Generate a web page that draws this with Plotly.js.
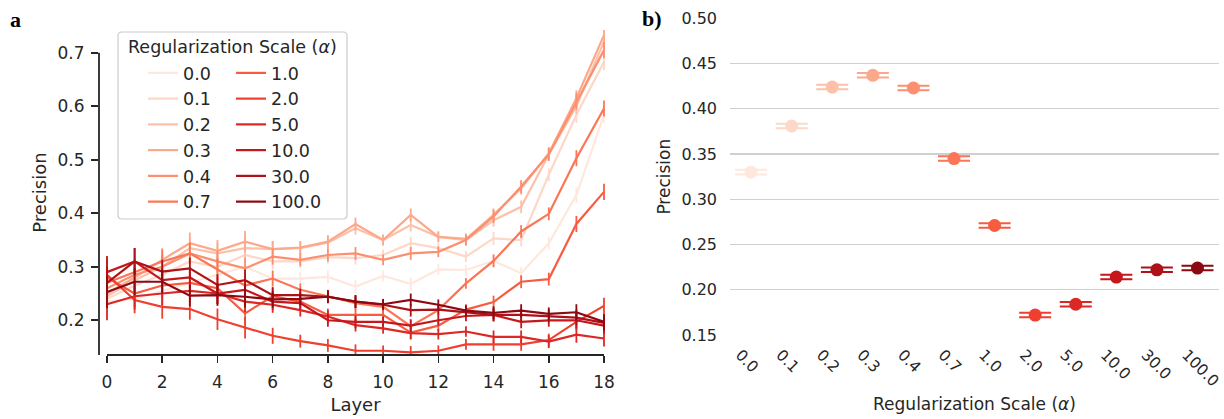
<!DOCTYPE html>
<html>
<head>
<meta charset="utf-8">
<script src="https://cdn.plot.ly/plotly-3.0.1.min.js"></script>
<style>
html,body{margin:0;padding:0;background:#ffffff;}
#chart{width:1224px;height:419px;}
</style>
</head>
<body>
<div id="chart"></div>
<script>
// ---------------- data ----------------
const layers = [0,1,2,3,4,5,6,7,8,9,10,11,12,13,14,15,16,17,18];
const alphaLabels = ['0.0','0.1','0.2','0.3','0.4','0.7','1.0','2.0','5.0','10.0','30.0','100.0'];
const alphaColors = ['#fee8de','#fdd7c7','#fcc1a8','#fca88b','#fc8f6f','#fb7656','#f75c41','#f03f2e','#dc2824','#c5171c','#ae1117','#8d0912'];

// panel a: precision per layer for each regularization scale
const prec_0_0  = [0.235,0.240,0.255,0.270,0.285,0.300,0.278,0.278,0.281,0.263,0.283,0.268,0.295,0.294,0.311,0.288,0.344,0.434,0.584];
const prec_0_1  = [0.240,0.265,0.285,0.310,0.300,0.322,0.310,0.310,0.318,0.316,0.322,0.344,0.335,0.319,0.353,0.350,0.472,0.584,0.683];
const prec_0_2  = [0.245,0.275,0.300,0.335,0.325,0.335,0.333,0.335,0.345,0.372,0.350,0.378,0.356,0.350,0.387,0.412,0.510,0.600,0.721];
const prec_0_3  = [0.250,0.280,0.313,0.344,0.330,0.347,0.333,0.336,0.347,0.380,0.350,0.397,0.356,0.352,0.397,0.447,0.512,0.615,0.733];
const prec_0_4  = [0.260,0.285,0.300,0.325,0.310,0.297,0.319,0.313,0.322,0.325,0.313,0.325,0.328,0.350,0.394,0.450,0.510,0.609,0.705];
const prec_0_7  = [0.270,0.290,0.310,0.325,0.295,0.265,0.278,0.257,0.245,0.232,0.225,0.189,0.219,0.269,0.311,0.366,0.399,0.503,0.596];
const prec_1_0  = [0.280,0.250,0.265,0.270,0.260,0.213,0.245,0.235,0.210,0.210,0.210,0.177,0.190,0.220,0.234,0.272,0.277,0.380,0.440];
const prec_2_0  = [0.285,0.238,0.225,0.221,0.202,0.186,0.171,0.161,0.153,0.143,0.143,0.140,0.143,0.155,0.155,0.155,0.163,0.197,0.227];
const prec_5_0  = [0.230,0.245,0.250,0.255,0.250,0.235,0.229,0.219,0.207,0.191,0.185,0.176,0.174,0.179,0.169,0.169,0.160,0.173,0.166];
const prec_10_0 = [0.290,0.310,0.275,0.280,0.250,0.257,0.235,0.232,0.200,0.197,0.197,0.190,0.200,0.208,0.210,0.197,0.200,0.200,0.190];
const prec_30_0 = [0.270,0.310,0.291,0.297,0.266,0.275,0.247,0.247,0.244,0.235,0.229,0.219,0.220,0.215,0.210,0.210,0.208,0.205,0.195];
const prec_100_0= [0.253,0.272,0.272,0.246,0.247,0.244,0.239,0.240,0.244,0.235,0.230,0.238,0.229,0.218,0.214,0.218,0.212,0.215,0.197];
const layerErr  = [0.030,0.025,0.022,0.020,0.020,0.020,0.015,0.012,0.012,0.012,0.010,0.012,0.010,0.010,0.012,0.012,0.012,0.015,0.015];

// panel b: precision per regularization scale
const meanPrecision = [0.330,0.381,0.424,0.437,0.423,0.345,0.271,0.172,0.184,0.214,0.222,0.224];
const meanErr       = [0.0025,0.0025,0.0025,0.0025,0.0025,0.0025,0.0025,0.0025,0.0025,0.0025,0.0025,0.0025];

const layerSeries = [prec_0_0,prec_0_1,prec_0_2,prec_0_3,prec_0_4,prec_0_7,prec_1_0,prec_2_0,prec_5_0,prec_10_0,prec_30_0,prec_100_0];

// ---------------- layout helpers ----------------
const W = 1224, H = 419;
const PX = x => x / W;
const PY = y => 1 - y / H;
const TXT = '#262626';
const FONT = 'DejaVu Sans, sans-serif';

// left panel geometry
const xA = {d0: PX(99), d1: PX(612), r0: -0.29, r1: 18.29};
const yA = {d0: PY(355), d1: PY(30), r0: 0.1351, r1: 0.7426};
const xToPaper = v => xA.d0 + (v - xA.r0) / (xA.r1 - xA.r0) * (xA.d1 - xA.d0);
const yToPaper = v => yA.d0 + (v - yA.r0) / (yA.r1 - yA.r0) * (yA.d1 - yA.d0);

function roundRect(x0, y0, x1, y1, r) {
  const P = (x, y) => PX(x).toFixed(5) + ',' + PY(y).toFixed(5);
  return 'M' + P(x0 + r, y0) + ' L' + P(x1 - r, y0) + ' Q' + P(x1, y0) + ' ' + P(x1, y0 + r) +
         ' L' + P(x1, y1 - r) + ' Q' + P(x1, y1) + ' ' + P(x1 - r, y1) +
         ' L' + P(x0 + r, y1) + ' Q' + P(x0, y1) + ' ' + P(x0, y1 - r) +
         ' L' + P(x0, y0 + r) + ' Q' + P(x0, y0) + ' ' + P(x0 + r, y0) + ' Z';
}

// ---------------- traces ----------------
const traces = [];
layerSeries.forEach((ys, i) => {
  traces.push({
    type: 'scatter', mode: 'lines',
    x: layers, y: ys,
    name: alphaLabels[i],
    legend: i < 6 ? 'legend' : 'legend2',
    line: {color: alphaColors[i], width: 2.2},
    error_y: {type: 'data', array: layerErr, visible: true, width: 0, thickness: 1.8, color: alphaColors[i]},
    xaxis: 'x', yaxis: 'y',
    hoverinfo: 'x+y+name'
  });
});
alphaLabels.forEach((lab, i) => {
  traces.push({
    type: 'scatter', mode: 'markers',
    x: [lab], y: [meanPrecision[i]],
    name: lab, showlegend: false,
    marker: {color: alphaColors[i], size: 13},
    error_y: {type: 'data', array: [meanErr[i]], visible: true, width: 16, thickness: 2, color: alphaColors[i]},
    xaxis: 'x2', yaxis: 'y2'
  });
});

const legendCommon = {
  xanchor: 'left', yanchor: 'top',
  bgcolor: 'rgba(0,0,0,0)', borderwidth: 0,
  font: {family: FONT, size: 17.5, color: TXT},
  itemclick: false, itemdoubleclick: false
};

const layout = {
  width: W, height: H,
  margin: {l: 0, r: 0, t: 0, b: 0},
  paper_bgcolor: '#ffffff', plot_bgcolor: 'rgba(0,0,0,0)',
  font: {family: FONT, color: TXT},
  showlegend: true,
  legend: Object.assign({}, legendCommon, {x: PX(143), y: PY(55)}),
  legend2: Object.assign({}, legendCommon, {x: PX(231), y: PY(55)}),
  xaxis: {
    domain: [xA.d0, xA.d1], range: [xA.r0, xA.r1], anchor: 'y',
    tickvals: [0,2,4,6,8,10,12,14,16,18],
    ticks: 'outside', ticklen: 7, tickwidth: 1.6, tickcolor: TXT,
    tickfont: {family: FONT, size: 17, color: TXT},
    ticklabelstandoff: 5,
    showline: false, showgrid: false, zeroline: false,
    title: {text: 'Layer', font: {family: FONT, size: 18, color: TXT}, standoff: 6}
  },
  yaxis: {
    domain: [yA.d0, yA.d1], range: [yA.r0, yA.r1], anchor: 'x',
    tickvals: [0.2,0.3,0.4,0.5,0.6,0.7], tickformat: '.1f',
    ticks: 'outside', ticklen: 7, tickwidth: 1.6, tickcolor: TXT,
    tickfont: {family: FONT, size: 17, color: TXT},
    ticklabelstandoff: 3,
    showline: false, showgrid: false, zeroline: false,
    title: {text: 'Precision', font: {family: FONT, size: 18, color: TXT}, standoff: 6}
  },
  xaxis2: {
    domain: [PX(730), PX(1219)], range: [-0.52, 11.53], anchor: 'y2',
    type: 'category', categoryorder: 'array', categoryarray: alphaLabels,
    tickangle: 45, ticks: '',
    tickfont: {family: FONT, size: 15.5, color: TXT},
    ticklabelshift: -11, ticklabelstandoff: 6,
    showline: false, showgrid: false, zeroline: false,
    title: {text: 'Regularization Scale (<i>α</i>)', font: {family: FONT, size: 17, color: TXT}, standoff: 8}
  },
  yaxis2: {
    domain: [PY(335.9), PY(17.4)], range: [0.149, 0.501], anchor: 'x2',
    dtick: 0.05, tick0: 0.15, tickformat: '.2f', ticks: '',
    tickfont: {family: FONT, size: 16, color: TXT},
    showline: false, showgrid: true, gridcolor: '#d0d0d0', gridwidth: 1.3, zeroline: false,
    ticklabelstandoff: 12,
    title: {text: 'Precision', font: {family: FONT, size: 17, color: TXT}, standoff: 6}
  },
  shapes: [
    {type: 'path', xref: 'paper', yref: 'paper', path: roundRect(118, 32, 347, 219, 4),
     line: {color: '#cccccc', width: 1.2}, fillcolor: 'rgba(255,255,255,0.8)', layer: 'below'},
    {type: 'line', xref: 'paper', yref: 'paper', x0: xA.d0, x1: xA.d0, y0: yA.d0, y1: yToPaper(0.7),
     line: {color: TXT, width: 1.8}},
    {type: 'line', xref: 'paper', yref: 'paper', x0: xToPaper(0), x1: xToPaper(18), y0: yA.d0, y1: yA.d0,
     line: {color: TXT, width: 1.8}}
  ],
  annotations: [
    {xref: 'paper', yref: 'paper', x: PX(126), y: PY(47), xanchor: 'left', yanchor: 'middle',
     text: 'Regularization Scale (<i>α</i>)', showarrow: false,
     font: {family: FONT, size: 17.5, color: TXT}},
    {xref: 'paper', yref: 'paper', x: PX(8), y: PY(20), xanchor: 'left', yanchor: 'middle',
     text: '<b>a</b>', showarrow: false, font: {family: 'Liberation Serif, serif', size: 22, color: '#000'}},
    {xref: 'paper', yref: 'paper', x: PX(640), y: PY(19), xanchor: 'left', yanchor: 'middle',
     text: '<b>b)</b>', showarrow: false, font: {family: 'Liberation Serif, serif', size: 22, color: '#000'}}
  ]
};

Plotly.newPlot('chart', traces, layout, {staticPlot: true, displayModeBar: false});
</script>
</body>
</html>
